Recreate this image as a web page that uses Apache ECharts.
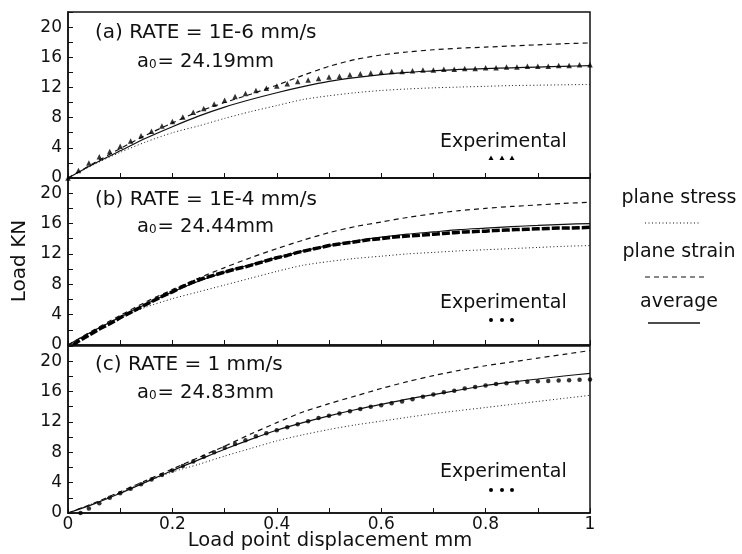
<!DOCTYPE html>
<html><head><meta charset="utf-8">
<script src="https://cdn.jsdelivr.net/npm/echarts@6/dist/echarts.min.js"></script>
<style>html,body{margin:0;padding:0;background:#fff}#c{width:742px;height:554px}</style>
</head><body><div id="c"></div>
<script>
// ---- data ----
const modelX = [0,0.05,0.1,0.15,0.2,0.25,0.3,0.35,0.4,0.45,0.5,0.55,0.6,0.65,0.7,0.75,0.8,0.85,0.9,0.95,1.0];

// panel (a) RATE = 1E-6 mm/s
const stressA = [0,1.8,3.4,4.8,6.0,6.9,7.9,8.8,9.6,10.4,10.9,11.3,11.6,11.8,11.95,12.05,12.15,12.25,12.3,12.35,12.4];
const strainA = [0,2.0,3.9,5.7,7.3,8.8,10.0,11.1,12.3,13.6,14.8,15.7,16.3,16.7,17.0,17.2,17.35,17.5,17.65,17.8,17.9];
const avgA    = [0,1.9,3.6,5.3,6.8,8.2,9.4,10.4,11.3,12.1,12.8,13.3,13.7,14.0,14.2,14.4,14.5,14.6,14.7,14.8,14.9];
const expAX = [0,0.02,0.04,0.06,0.08,0.1,0.12,0.14,0.16,0.18,0.2,0.22,0.24,0.26,0.28,0.3,0.32,0.34,0.36,0.38,0.4,0.42,0.44,0.46,0.48,0.5,0.52,0.54,0.56,0.58,0.6,0.62,0.64,0.66,0.68,0.7,0.72,0.74,0.76,0.78,0.8,0.82,0.84,0.86,0.88,0.9,0.92,0.94,0.96,0.98,1.0];
const expAY = [0,1.0,2.0,2.8,3.5,4.2,4.9,5.6,6.2,6.9,7.5,8.1,8.7,9.2,9.8,10.3,10.8,11.2,11.6,11.9,12.2,12.5,12.8,13.0,13.2,13.4,13.5,13.7,13.8,13.9,14.0,14.1,14.1,14.2,14.3,14.3,14.4,14.4,14.5,14.5,14.6,14.6,14.7,14.7,14.8,14.8,14.8,14.9,14.9,15.0,15.0];

// panel (b) RATE = 1E-4 mm/s
const stressB = [0,1.9,3.6,5.0,6.1,7.0,7.9,8.8,9.7,10.5,11.0,11.4,11.7,12.0,12.2,12.4,12.55,12.7,12.85,13.0,13.1];
const strainB = [0,2.0,3.9,5.7,7.3,8.8,10.2,11.5,12.7,13.8,14.8,15.6,16.2,16.8,17.3,17.7,18.0,18.25,18.45,18.65,18.8];
const avgB    = [0,1.9,3.7,5.4,7.0,8.4,9.6,10.6,11.5,12.4,13.1,13.7,14.2,14.6,14.9,15.2,15.4,15.6,15.75,15.9,16.0];
const expBX = [0.01,0.02,0.04,0.06,0.08,0.1,0.12,0.14,0.16,0.18,0.2,0.22,0.24,0.26,0.28,0.3,0.32,0.34,0.36,0.38,0.4,0.42,0.44,0.46,0.48,0.5,0.52,0.54,0.56,0.58,0.6,0.62,0.64,0.66,0.68,0.7,0.72,0.74,0.76,0.78,0.8,0.82,0.84,0.86,0.88,0.9,0.92,0.94,0.96,0.98,1.0];
const expBY = [0,0.5,1.3,2.1,2.8,3.6,4.3,5.0,5.7,6.4,7.0,7.7,8.3,8.8,9.2,9.6,10.0,10.3,10.7,11.1,11.5,11.8,12.2,12.5,12.8,13.1,13.3,13.5,13.7,13.9,14.0,14.2,14.3,14.4,14.5,14.6,14.7,14.8,14.9,14.95,15.0,15.1,15.15,15.2,15.25,15.3,15.35,15.4,15.4,15.45,15.5];

// panel (c) RATE = 1 mm/s
const stressC = [0,1.3,2.7,4.1,5.4,6.4,7.5,8.5,9.5,10.3,11.0,11.6,12.1,12.6,13.1,13.5,13.9,14.3,14.7,15.1,15.5];
const strainC = [0,1.3,2.8,4.3,5.8,7.3,8.8,10.4,11.9,13.3,14.4,15.4,16.4,17.3,18.1,18.8,19.4,19.9,20.4,20.9,21.4];
const avgC    = [0,1.2,2.6,4.1,5.6,7.0,8.4,9.7,10.9,11.9,12.8,13.6,14.3,15.0,15.6,16.2,16.8,17.25,17.65,18.05,18.4];
const expCX = [0.024,0.04,0.06,0.08,0.1,0.12,0.14,0.16,0.18,0.2,0.22,0.24,0.26,0.28,0.3,0.32,0.34,0.36,0.38,0.4,0.42,0.44,0.46,0.48,0.5,0.52,0.54,0.56,0.58,0.6,0.62,0.64,0.66,0.68,0.7,0.72,0.74,0.76,0.78,0.8,0.82,0.84,0.86,0.88,0.9,0.92,0.94,0.96,0.98,1.0];
const expCY = [0,0.6,1.3,2.0,2.6,3.2,3.8,4.4,5.0,5.6,6.2,6.8,7.4,8.0,8.6,9.1,9.6,10.1,10.5,10.9,11.3,11.7,12.1,12.5,12.8,13.1,13.4,13.7,14.0,14.2,14.45,14.7,15.0,15.3,15.6,15.9,16.1,16.4,16.6,16.8,17.0,17.1,17.2,17.3,17.35,17.4,17.45,17.5,17.55,17.6];

const panelTitles = ['(a) RATE = 1E-6 mm/s','(b) RATE = 1E-4 mm/s','(c) RATE = 1 mm/s'];
const panelA0 = ['24.19mm','24.44mm','24.83mm'];
const legendNames = ['plane stress','plane strain','average'];
const expLabel = 'Experimental';
const xTitle = 'Load point displacement mm';
const yTitle = 'Load KN';

// ---- chart ----
function pairs(xs, ys){ return xs.map((x,i)=>[x, ys[i]]); }
const FONT = '"DejaVu Sans", sans-serif';
const INK = '#111111';
const gridPos = [{top:12,height:166},{top:178,height:167},{top:346,height:167}];

const grid = gridPos.map(g => ({left:68, right:152, top:g.top, height:g.height,
  show:true, borderColor:INK, borderWidth:1.5, backgroundColor:'transparent'}));

const xAxis = gridPos.map((g,i) => ({
  type:'value', gridIndex:i, min:0, max:1, interval:0.1,
  axisLine:{show:true, onZero:false, lineStyle:{color:INK, width:1.5}},
  axisTick:{show:true, inside:true, length:5, lineStyle:{color:INK, width:1}},
  axisLabel:{show:i===2, margin:3, fontSize:17, fontFamily:FONT, color:INK,
    formatter: v => { const r = Math.round(v*10); if (r%2) return ''; if (r===0) return '0'; if (r===10) return '1'; return (r/10).toFixed(1); }},
  splitLine:{show:false}
}));
const yAxis = gridPos.map((g,i) => ({
  type:'value', gridIndex:i, min:0, max:22, interval:2,
  axisLine:{show:true, onZero:false, lineStyle:{color:INK, width:1.5}},
  axisTick:{show:true, inside:true, length:5, lineStyle:{color:INK, width:1}},
  axisLabel:{margin:6, fontSize:17, fontFamily:FONT, color:INK,
    formatter: v => (Math.round(v)%4===0 && v<=20) ? String(Math.round(v)) : ''},
  splitLine:{show:false}
}));

const models = [[stressA,strainA,avgA],[stressB,strainB,avgB],[stressC,strainC,avgC]];
const lineStyles = [
  {color:INK, width:1, type:[1,2.5]},
  {color:INK, width:1.2, type:[5,4]},
  {color:INK, width:1.2, type:'solid'}
];
const series = [];
models.forEach((m,i) => {
  m.forEach((ys,k) => {
    series.push({type:'line', name:legendNames[k], xAxisIndex:i, yAxisIndex:i, data:pairs(modelX, ys),
      showSymbol:false, smooth:0.25, lineStyle:lineStyles[k], silent:true, z:3});
  });
});
series.push({type:'scatter', xAxisIndex:0, yAxisIndex:0, data:pairs(expAX, expAY),
  symbol:'triangle', symbolSize:5.5, itemStyle:{color:'#000'}, z:4});
series.push({type:'line', xAxisIndex:1, yAxisIndex:1, data:pairs(expBX, expBY),
  showSymbol:false, lineStyle:{color:'#000', width:3.5, type:[8,2]}, z:4});
series.push({type:'scatter', xAxisIndex:2, yAxisIndex:2, data:pairs(expCX, expCY),
  symbol:'circle', symbolSize:4.5, itemStyle:{color:'#000'}, z:4});

function txt(text, x, y, size, align, extra){
  return Object.assign({type:'text', x:x, y:y, z:10, silent:true,
    style:{text:text, font:size+'px '+FONT, fill:INK, align:align, textAlign:align,
      verticalAlign:'middle', textVerticalAlign:'middle'}}, extra||{});
}
const graphic = [];
const titleY = [33,200,365], a0Y = [62,227,393], expY = [142,303,472], mkY = [158,320,490];
for (let i=0;i<3;i++){
  graphic.push(txt(panelTitles[i], 95, titleY[i], 20, 'left'));
  graphic.push({type:'text', x:137, y:a0Y[i], z:10, silent:true,
    style:{text:'{m|a}{s|0}{m|= '+panelA0[i]+'}', fill:INK, align:'left', textAlign:'left',
      verticalAlign:'middle', textVerticalAlign:'middle',
      rich:{m:{fontSize:19.5, fontFamily:FONT, fill:INK, color:INK, lineHeight:24},
            s:{fontSize:12, fontFamily:FONT, fill:INK, color:INK, lineHeight:12, padding:[6,1,0,0]}}}});
  graphic.push(txt(expLabel, 440, expY[i], 19, 'left'));
  [491,502,512].forEach(cx => {
    if (i===0) graphic.push({type:'polygon', silent:true, z:10, shape:{points:[[cx-2.5,mkY[i]+2],[cx+2.5,mkY[i]+2],[cx,mkY[i]-2.5]]}, style:{fill:'#000'}});
    else graphic.push({type:'circle', silent:true, z:10, shape:{cx:cx, cy:mkY[i], r:2}, style:{fill:'#000'}});
  });
}
graphic.push(txt(xTitle, 330, 541, 19.5, 'center'));
graphic.push(txt(yTitle, 20, 261, 20, 'center', {rotation:Math.PI/2}));
// legend at right
const legY = [198,252,302], legLineY = [223,277,323];
const legLines = [[645,700,[1,2.5],1],[645,705,[5,4],1.2],[648,700,null,1.3]];
for (let k=0;k<3;k++){
  graphic.push(txt(legendNames[k], 679, legY[k], 19, 'center'));
  graphic.push({type:'line', silent:true, z:10,
    shape:{x1:legLines[k][0], y1:legLineY[k], x2:legLines[k][1], y2:legLineY[k]},
    style:{stroke:INK, lineWidth:legLines[k][3], lineDash:legLines[k][2]}});
}

const chart = echarts.init(document.getElementById('c'), null, {renderer:'canvas'});
chart.setOption({animation:false, backgroundColor:'#fff', grid, xAxis, yAxis, series, graphic});
</script></body></html>
